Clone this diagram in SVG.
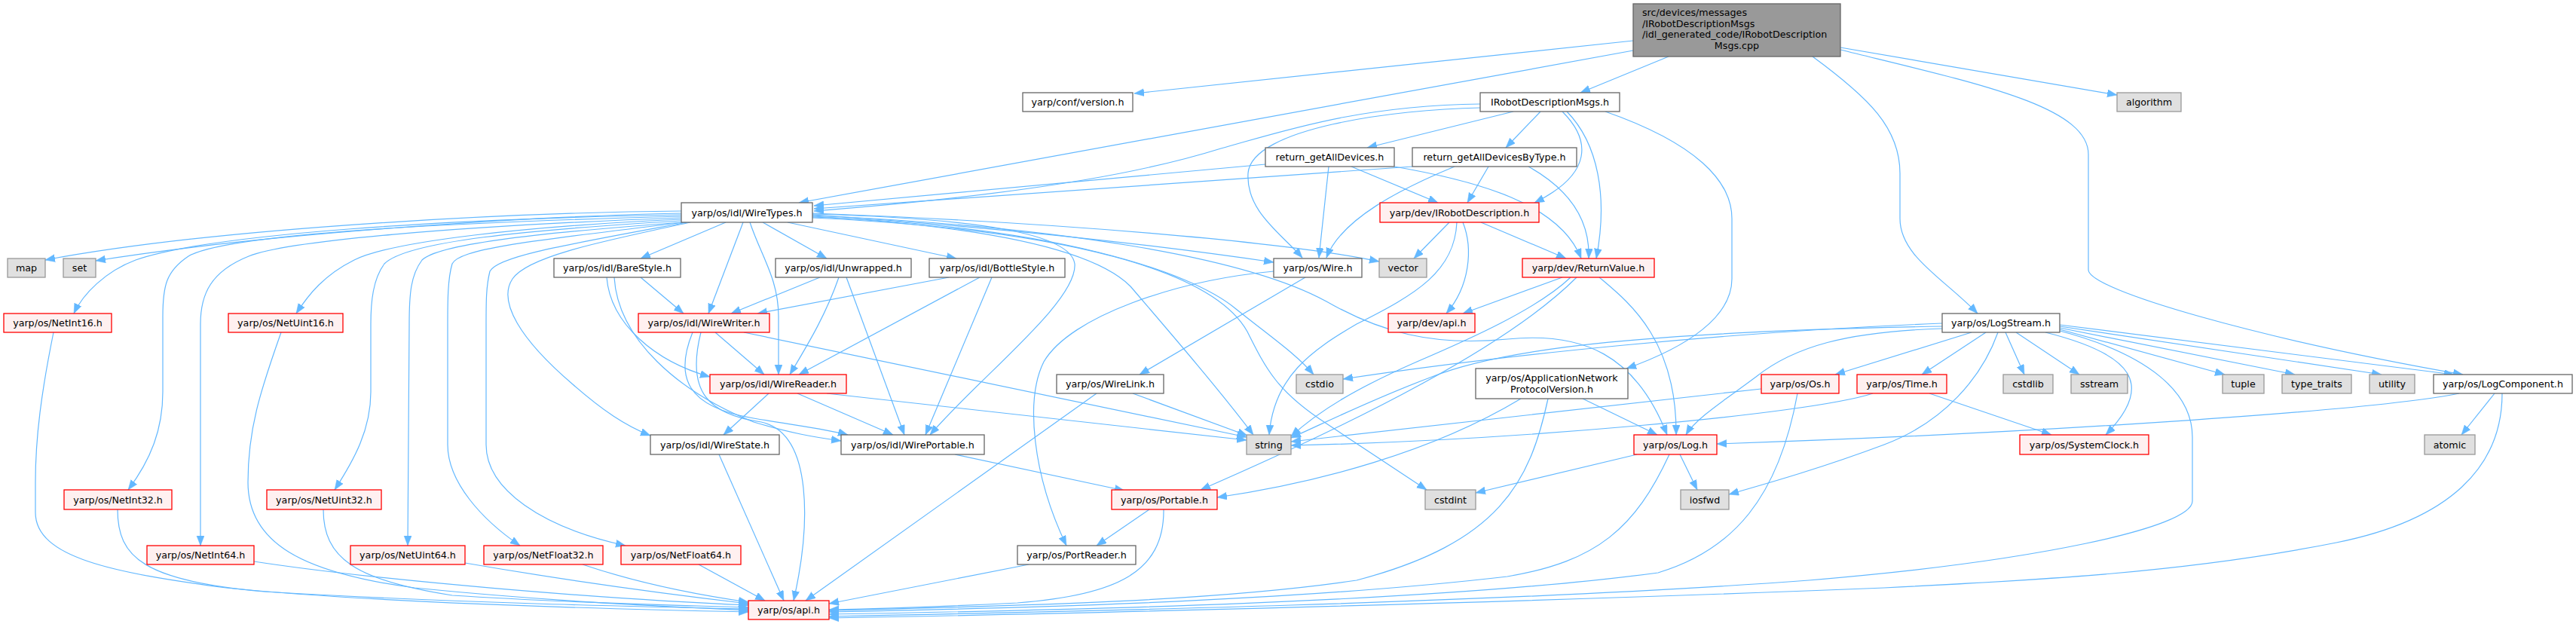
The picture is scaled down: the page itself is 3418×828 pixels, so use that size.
<svg xmlns="http://www.w3.org/2000/svg" width="3418" height="828" viewBox="0 0 3418 828">
<style>
text{font-family:"DejaVu Sans","Liberation Sans",sans-serif;font-size:12.7px;fill:#000;text-anchor:middle}
.n rect{fill:#fff;stroke:#666;stroke-width:1.3}
.r rect{fill:#fff0f0;stroke:#ff0000;stroke-width:1.3}
.g rect{fill:#e0e0e0;stroke:#999;stroke-width:1.3}
.e path{fill:none;stroke:#63b8ff;stroke-width:1.2;marker-end:url(#a)}
</style>
<defs>
<marker id="a" markerUnits="userSpaceOnUse" markerWidth="14" markerHeight="11" refX="13" refY="5" orient="auto">
<path d="M0,0 L13,5 L0,10 Z" fill="#63b8ff" stroke="#63b8ff" stroke-width="0.5"/>
</marker>
</defs>
<rect width="3418" height="828" fill="#fff"/>
<g id="edges" class="e">
<path d="M2167,54 L1505,124"/>
<path d="M2167,67 L1060,269"/>
<path d="M2214,75 L2097,123"/>
<path d="M2442,63 L2809,126"/>
<path d="M2442,66 C2620,110 2771,140 2771,205 L2771,358 C2771,385 3000,450 3268,497"/>
<path d="M2405,75 C2480,130 2521,170 2521,230 L2521,290 C2521,340 2580,370 2624,416"/>
<path d="M1964,138 C1800,140 1700,175 1620,197 C1540,222 1400,255 1080,280"/>
<path d="M1964,143 C1850,145 1660,170 1656,230 C1653,280 1700,310 1728,342"/>
<path d="M2008,148 L1814,196"/>
<path d="M2044,148 L1998,196"/>
<path d="M2073,148 C2110,185 2115,230 2036,269"/>
<path d="M2079,148 C2120,190 2134,260 2118,343"/>
<path d="M2130,148 C2250,190 2298,240 2298,290 L2298,370 C2298,420 2240,460 2158,489"/>
<path d="M1679,218 L1080,273"/>
<path d="M1763,221 L1750,342"/>
<path d="M1793,221 L1908,269"/>
<path d="M1850,221 C1960,240 2070,270 2098,343"/>
<path d="M1874,221 L1080,277"/>
<path d="M1930,221 C1860,250 1780,290 1760,342"/>
<path d="M1975,221 L1947,269"/>
<path d="M2028,221 C2080,250 2110,290 2108,343"/>
<path d="M1923,295 L1876,343"/>
<path d="M1965,295 L2078,343"/>
<path d="M1941,295 C1955,330 1950,380 1919,416"/>
<path d="M1933,295 C1930,360 1880,390 1800,430 C1740,465 1690,500 1684,577"/>
<path d="M2073,368 L1941,416"/>
<path d="M2122,368 C2160,400 2225,450 2224,577"/>
<path d="M2084,368 C2040,410 1950,450 1880,480 C1800,515 1750,545 1713,579"/>
<path d="M2092,368 C2000,460 1800,560 1593,650"/>
<path d="M2100,529 L2199,577"/>
<path d="M2018,529 C1900,600 1750,640 1615,660"/>
<path d="M2054,529 C2030,640 1990,720 1800,770 C1600,800 1300,805 1100,810"/>
<path d="M2172,603 L1958,654"/>
<path d="M2229,603 L2252,650"/>
<path d="M2215,603 C2170,700 2120,745 2000,765 C1700,800 1300,808 1100,812"/>
<path d="M2337,516 L1713,586"/>
<path d="M2385,522 C2360,660 2300,730 2200,760 C1900,800 1400,810 1100,815"/>
<path d="M2485,522 C2400,550 2000,585 1713,591"/>
<path d="M2560,522 L2722,577"/>
<path d="M2577,429 C2300,440 2000,470 1782,503"/>
<path d="M2577,433 C2200,440 2000,460 1900,500 C1820,530 1760,560 1713,581"/>
<path d="M2577,436 C2450,440 2380,460 2330,500 C2290,530 2250,555 2237,577"/>
<path d="M2616,441 L2435,497"/>
<path d="M2635,441 L2550,497"/>
<path d="M2651,441 C2630,500 2580,560 2500,590 C2420,620 2350,640 2294,656"/>
<path d="M2661,441 L2686,497"/>
<path d="M2675,441 L2759,497"/>
<path d="M2714,441 C2830,470 2860,510 2794,577"/>
<path d="M2733,439 C2850,470 2909,520 2909,580 L2909,665 C2909,700 2700,745 2400,770 C2000,800 1400,812 1100,818"/>
<path d="M2733,437 L2952,497"/>
<path d="M2733,435 L3045,497"/>
<path d="M2733,433 L3160,497"/>
<path d="M2733,431 L3256,497"/>
<path d="M3263,522 C3150,545 2700,575 2278,589"/>
<path d="M3310,522 L3266,577"/>
<path d="M3320,522 C3320,620 3250,690 3100,720 C2900,760 2700,770 2500,780 C2000,800 1400,815 1100,820"/>
<path d="M1732,368 L1512,497"/>
<path d="M1690,360 C1560,372 1420,420 1385,480 C1360,530 1370,630 1415,724"/>
<path d="M1503,522 L1655,578"/>
<path d="M1455,522 L1069,797"/>
<path d="M1525,676 L1455,724"/>
<path d="M1544,676 C1545,760 1480,790 1350,800 C1250,805 1150,808 1100,809"/>
<path d="M1365,749 L1100,801"/>
<path d="M1267,603 L1492,651"/>
<path d="M1020,522 L960,577"/>
<path d="M1058,522 L1185,577"/>
<path d="M1097,522 L1654,584"/>
<path d="M954,603 L1040,797"/>
<path d="M949,441 L1014,497"/>
<path d="M987,441 L1654,580"/>
<path d="M919,441 C895,500 910,540 1000,555 C1060,565 1100,570 1125,577"/>
<path d="M930,441 C910,520 940,550 1010,560 C1080,575 1075,700 1053,797"/>
<path d="M850,368 L907,416"/>
<path d="M805,368 C810,430 870,480 942,500"/>
<path d="M815,368 C820,450 900,520 1000,560 C1050,575 1080,580 1116,585"/>
<path d="M1088,368 L970,416"/>
<path d="M1113,368 C1095,420 1070,460 1048,497"/>
<path d="M1123,368 L1200,577"/>
<path d="M1259,368 L1005,416"/>
<path d="M1300,368 L1060,497"/>
<path d="M1316,368 L1228,577"/>
<path d="M904,280 C700,282 300,300 60,345"/>
<path d="M904,283 C700,287 350,310 127,346"/>
<path d="M904,285 C600,290 280,310 180,345 C140,360 110,390 98,416"/>
<path d="M904,287 C600,295 300,310 250,340 C220,360 216,380 216,420 L216,520 C216,570 200,610 170,650"/>
<path d="M904,289 C600,300 380,320 330,340 C280,360 266,390 266,430 L266,724"/>
<path d="M904,291 C700,300 520,320 470,345 C430,365 410,390 393,416"/>
<path d="M904,293 C700,305 540,320 510,350 C495,370 492,400 492,430 L492,520 C492,570 470,610 444,650"/>
<path d="M906,295 C700,310 580,325 560,345 C545,365 543,390 543,430 L541,724"/>
<path d="M908,295 C700,320 610,330 600,350 C594,370 594,400 594,430 L594,590 C594,640 640,690 690,724"/>
<path d="M912,295 C750,325 660,340 650,360 C645,380 645,400 645,430 L645,590 C645,650 720,700 830,724"/>
<path d="M916,295 C800,320 700,340 680,370 C660,400 690,450 760,510 C800,545 830,565 863,578"/>
<path d="M963,295 L850,343"/>
<path d="M986,295 L940,416"/>
<path d="M995,295 C1010,340 1033,370 1033,420 L1033,497"/>
<path d="M1012,295 L1097,343"/>
<path d="M1045,295 L1269,343"/>
<path d="M1078,284 C1300,290 1420,310 1426,350 C1430,400 1300,500 1234,577"/>
<path d="M1078,285 C1300,300 1500,320 1690,348"/>
<path d="M1078,283 C1400,295 1700,320 1830,347"/>
<path d="M1078,287 C1300,300 1450,330 1500,380 C1560,450 1620,520 1663,577"/>
<path d="M1078,288 C1400,300 1580,360 1640,410 C1690,450 1720,470 1743,497"/>
<path d="M1078,289 C1420,305 1610,360 1655,440 C1680,490 1695,520 1760,562 L1893,650"/>
<path d="M1078,286 C1400,300 1650,340 1760,400 C1830,440 1900,460 2000,450 C2100,440 2170,470 2212,577"/>
<path d="M71,441 C55,520 47,580 47,640 L47,680 C47,740 150,760 300,780 C500,800 800,808 993,812"/>
<path d="M373,441 C345,520 329,570 329,640 C329,720 400,760 550,780 C750,800 900,805 993,810"/>
<path d="M156,676 C156,740 190,770 350,785 C600,800 850,805 993,808"/>
<path d="M429,676 C429,740 470,770 600,790 C750,800 900,803 993,806"/>
<path d="M337,745 C500,770 800,795 993,803"/>
<path d="M617,747 C750,770 900,790 993,801"/>
<path d="M773,749 C850,775 930,790 993,799"/>
<path d="M927,749 L1015,797"/>
</g>
<g id="cpp"><rect x="2167" y="5" width="275" height="70" fill="#999" stroke="#666" stroke-width="1.3"/>
<text x="2179" y="21" style="text-anchor:start">src/devices/messages</text>
<text x="2179" y="35.7" style="text-anchor:start">/IRobotDescriptionMsgs</text>
<text x="2179" y="50.4" style="text-anchor:start">/idl_generated_code/IRobotDescription</text>
<text x="2304.5" y="65.1">Msgs.cpp</text></g>
<g id="version" class="n"><rect x="1357" y="123" width="146" height="25"/><text x="1430" y="140">yarp/conf/version.h</text></g>
<g id="irdmsgs" class="n"><rect x="1964" y="123" width="185" height="25"/><text x="2056.5" y="140">IRobotDescriptionMsgs.h</text></g>
<g id="algorithm" class="g"><rect x="2809" y="123" width="85" height="25"/><text x="2851.5" y="140">algorithm</text></g>
<g id="retall" class="n"><rect x="1679" y="196" width="171" height="25"/><text x="1764.5" y="213">return_getAllDevices.h</text></g>
<g id="retbytype" class="n"><rect x="1874" y="196" width="218" height="25"/><text x="1983" y="213">return_getAllDevicesByType.h</text></g>
<g id="wiretypes" class="n"><rect x="904" y="269" width="174" height="26"/><text x="991" y="286.5">yarp/os/idl/WireTypes.h</text></g>
<g id="irobotdesc" class="r"><rect x="1831" y="269" width="211" height="26"/><text x="1936.5" y="286.5">yarp/dev/IRobotDescription.h</text></g>
<g id="map" class="g"><rect x="10" y="343" width="50" height="25"/><text x="35" y="360">map</text></g>
<g id="set" class="g"><rect x="84" y="343" width="43" height="25"/><text x="105.5" y="360">set</text></g>
<g id="barestyle" class="n"><rect x="735" y="343" width="168" height="25"/><text x="819" y="360">yarp/os/idl/BareStyle.h</text></g>
<g id="unwrapped" class="n"><rect x="1029" y="343" width="180" height="25"/><text x="1119" y="360">yarp/os/idl/Unwrapped.h</text></g>
<g id="bottlestyle" class="n"><rect x="1233" y="343" width="180" height="25"/><text x="1323" y="360">yarp/os/idl/BottleStyle.h</text></g>
<g id="wire" class="n"><rect x="1690" y="343" width="117" height="25"/><text x="1748.5" y="360">yarp/os/Wire.h</text></g>
<g id="vector" class="g"><rect x="1830" y="343" width="63" height="25"/><text x="1861.5" y="360">vector</text></g>
<g id="returnvalue" class="r"><rect x="2020" y="343" width="175" height="25"/><text x="2107.5" y="360">yarp/dev/ReturnValue.h</text></g>
<g id="netint16" class="r"><rect x="5" y="416" width="143" height="25"/><text x="76.5" y="433">yarp/os/NetInt16.h</text></g>
<g id="netuint16" class="r"><rect x="303" y="416" width="152" height="25"/><text x="379" y="433">yarp/os/NetUint16.h</text></g>
<g id="wirewriter" class="r"><rect x="847" y="416" width="174" height="25"/><text x="934" y="433">yarp/os/idl/WireWriter.h</text></g>
<g id="devapi" class="r"><rect x="1842" y="416" width="115" height="25"/><text x="1899.5" y="433">yarp/dev/api.h</text></g>
<g id="logstream" class="n"><rect x="2577" y="416" width="156" height="25"/><text x="2655" y="433">yarp/os/LogStream.h</text></g>
<g id="wirereader" class="r"><rect x="942" y="497" width="181" height="25"/><text x="1032.5" y="514">yarp/os/idl/WireReader.h</text></g>
<g id="wirelink" class="n"><rect x="1402" y="497" width="142" height="25"/><text x="1473" y="514">yarp/os/WireLink.h</text></g>
<g id="cstdio" class="g"><rect x="1720" y="497" width="62" height="25"/><text x="1751" y="514">cstdio</text></g>
<g id="appnet" class="n"><rect x="1958" y="489" width="202" height="40"/><text x="2059" y="506">yarp/os/ApplicationNetwork</text><text x="2059" y="521">ProtocolVersion.h</text></g>
<g id="os" class="r"><rect x="2337" y="497" width="103" height="25"/><text x="2388.5" y="514">yarp/os/Os.h</text></g>
<g id="time" class="r"><rect x="2464" y="497" width="119" height="25"/><text x="2523.5" y="514">yarp/os/Time.h</text></g>
<g id="cstdlib" class="g"><rect x="2658" y="497" width="66" height="25"/><text x="2691" y="514">cstdlib</text></g>
<g id="sstream" class="g"><rect x="2748" y="497" width="75" height="25"/><text x="2785.5" y="514">sstream</text></g>
<g id="tuple" class="g"><rect x="2949" y="497" width="55" height="25"/><text x="2976.5" y="514">tuple</text></g>
<g id="typetraits" class="g"><rect x="3028" y="497" width="92" height="25"/><text x="3074" y="514">type_traits</text></g>
<g id="utility" class="g"><rect x="3144" y="497" width="60" height="25"/><text x="3174" y="514">utility</text></g>
<g id="logcomponent" class="n"><rect x="3229" y="497" width="184" height="25"/><text x="3321" y="514">yarp/os/LogComponent.h</text></g>
<g id="wirestate" class="n"><rect x="863" y="577" width="171" height="26"/><text x="948.5" y="594.5">yarp/os/idl/WireState.h</text></g>
<g id="wireportable" class="n"><rect x="1116" y="577" width="190" height="26"/><text x="1211" y="594.5">yarp/os/idl/WirePortable.h</text></g>
<g id="string" class="g"><rect x="1654" y="577" width="59" height="26"/><text x="1683.5" y="594.5">string</text></g>
<g id="log" class="r"><rect x="2168" y="577" width="110" height="26"/><text x="2223" y="594.5">yarp/os/Log.h</text></g>
<g id="systemclock" class="r"><rect x="2680" y="577" width="171" height="26"/><text x="2765.5" y="594.5">yarp/os/SystemClock.h</text></g>
<g id="atomic" class="g"><rect x="3217" y="577" width="67" height="26"/><text x="3250.5" y="594.5">atomic</text></g>
<g id="netint32" class="r"><rect x="85" y="650" width="143" height="26"/><text x="156.5" y="667.5">yarp/os/NetInt32.h</text></g>
<g id="netuint32" class="r"><rect x="354" y="650" width="152" height="26"/><text x="430" y="667.5">yarp/os/NetUint32.h</text></g>
<g id="cstdint" class="g"><rect x="1891" y="650" width="67" height="26"/><text x="1924.5" y="667.5">cstdint</text></g>
<g id="iosfwd" class="g"><rect x="2230" y="650" width="64" height="26"/><text x="2262" y="667.5">iosfwd</text></g>
<g id="portable" class="r"><rect x="1475" y="650" width="140" height="26"/><text x="1545" y="667.5">yarp/os/Portable.h</text></g>
<g id="netint64" class="r"><rect x="195" y="724" width="142" height="25"/><text x="266" y="741">yarp/os/NetInt64.h</text></g>
<g id="netuint64" class="r"><rect x="465" y="724" width="152" height="25"/><text x="541" y="741">yarp/os/NetUint64.h</text></g>
<g id="netfloat32" class="r"><rect x="642" y="724" width="158" height="25"/><text x="721" y="741">yarp/os/NetFloat32.h</text></g>
<g id="netfloat64" class="r"><rect x="824" y="724" width="159" height="25"/><text x="903.5" y="741">yarp/os/NetFloat64.h</text></g>
<g id="portreader" class="n"><rect x="1350" y="724" width="157" height="25"/><text x="1428.5" y="741">yarp/os/PortReader.h</text></g>
<g id="osapi" class="r"><rect x="993" y="797" width="107" height="25"/><text x="1046.5" y="814">yarp/os/api.h</text></g>
</svg>
